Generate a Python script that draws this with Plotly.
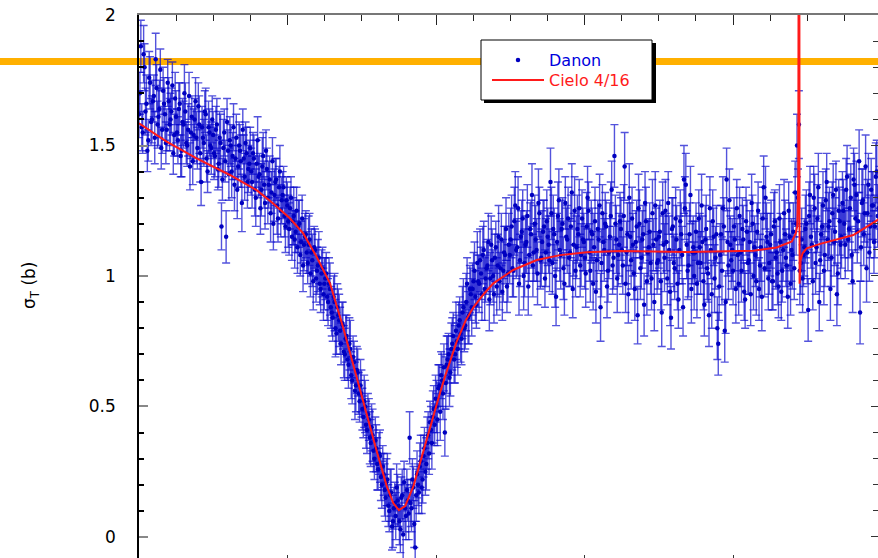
import numpy as np
import plotly.graph_objects as go

# ---------------- data ----------------
# Danon measurement: total cross section (b) and 1-sigma uncertainty (b) on a uniform
# neutron-energy grid (MeV); the two lists below hold the even and odd grid points.
danon_energy = np.linspace(1.5, 3.99312, 800)
danon_sigma_even = [
    1.62, 1.88, 1.55, 1.80, 1.66, 1.52, 1.74, 1.60, 1.69, 1.83, 1.58, 1.64, 1.49, 1.71, 1.62, 1.56, 1.67, 1.60, 1.73, 1.54,
    1.61, 1.52, 1.66, 1.48, 1.58, 1.63, 1.50, 1.69, 1.55, 1.44, 1.60, 1.53, 1.65, 1.47, 1.57, 1.51, 1.62, 1.40, 1.55, 1.49,
    1.54, 1.46, 1.58, 1.43, 1.51, 1.37, 1.55, 1.15, 1.48, 1.52, 1.40, 1.57, 1.45, 1.33, 1.50, 1.44, 1.56, 1.38, 1.47, 1.41,
    1.49, 1.36, 1.45, 1.30, 1.52, 1.39, 1.33, 1.46, 1.28, 1.41, 1.35, 1.24, 1.44, 1.31, 1.37, 1.22, 1.40, 1.29, 1.34, 1.19,
    1.27, 1.18, 1.30, 1.21, 1.14, 1.25, 1.19, 1.08, 1.22, 1.12, 1.16, 1.05, 1.14, 1.09, 0.98, 1.10, 1.02, 1.07, 0.95, 1.03,
    0.97, 1.01, 0.90, 0.95, 0.86, 0.92, 0.80, 0.88, 0.83, 0.74, 0.81, 0.70, 0.77, 0.66, 0.72, 0.60, 0.67, 0.58, 0.63, 0.52,
    0.55, 0.46, 0.50, 0.41, 0.45, 0.36, 0.39, 0.30, 0.34, 0.26, 0.31, 0.20, 0.24, 0.15, 0.22, 0.10, 0.17, 0.06, 0.13, 0.19,
    0.12, 0.03, 0.16, 0.21, 0.08, 0.14, 0.38, 0.11, 0.19, -0.04, 0.24, 0.17, 0.29, 0.22, 0.34, 0.28, 0.39, 0.44, 0.36, 0.49,
    0.53, 0.45, 0.58, 0.62, 0.55, 0.40, 0.66, 0.70, 0.63, 0.74, 0.68, 0.79, 0.72, 0.83, 0.76, 0.88, 0.81, 0.97, 0.85, 0.93,
    0.95, 1.02, 0.89, 0.98, 1.06, 0.93, 1.10, 0.99, 1.04, 0.91, 1.12, 1.00, 1.07, 0.96, 1.15, 1.03, 0.94, 1.09, 1.18, 1.01,
    1.08, 1.19, 1.02, 1.27, 1.11, 0.97, 1.15, 1.22, 1.05, 1.13, 0.96, 1.18, 1.31, 1.09, 1.14, 1.01, 1.24, 1.07, 1.17, 0.99,
    1.21, 1.12, 1.36, 1.05, 1.16, 0.92, 1.23, 1.10, 1.18, 1.03, 1.28, 1.14, 1.07, 1.19, 0.95, 1.25, 1.11, 1.16, 1.04, 1.22,
    1.13, 1.01, 1.30, 1.09, 1.17, 0.97, 1.21, 1.06, 1.14, 0.88, 1.24, 1.10, 1.19, 1.02, 1.15, 1.33, 1.07, 1.20, 0.99, 1.12,
    1.18, 1.04, 1.42, 1.09, 0.93, 1.15, 1.22, 1.01, 1.13, 0.85, 1.20, 1.07, 1.16, 1.28, 0.98, 1.11, 1.05, 1.24, 0.90, 1.14,
    1.06, 1.17, 0.86, 1.12, 1.25, 0.99, 1.10, 0.84, 1.19, 1.03, 1.14, 0.91, 1.21, 1.08, 1.37, 1.35, 1.02, 1.16, 0.95, 1.11,
    1.09, 0.97, 1.22, 1.05, 1.13, 0.89, 1.18, 1.01, 1.26, 0.93, 1.15, 1.07, 0.80, 0.96, 1.16, 1.26, 0.79, 1.37, 1.04, 1.12,
    1.10, 1.19, 0.95, 1.08, 1.23, 1.02, 1.14, 0.91, 1.17, 1.06, 0.93, 1.20, 1.11, 0.98, 1.25, 1.04, 0.92, 1.34, 1.30, 1.13,
    1.05, 1.16, 0.98, 1.21, 1.09, 0.96, 1.13, 1.02, 1.24, 1.07, 0.92, 1.15, 1.10, 1.17, 1.32, 1.50, 1.58, 1.05, 0.99, 1.11,
    1.20, 0.87, 1.31, 1.12, 1.30, 1.05, 1.22, 0.90, 1.16, 1.27, 1.08, 1.36, 1.19, 0.95, 1.24, 1.13, 1.33, 1.01, 1.21, 1.15,
    1.25, 1.12, 1.38, 1.18, 1.30, 0.98, 1.35, 1.31, 1.21, 0.86, 1.28, 1.16, 1.42, 1.24, 1.09, 1.33, 1.27, 1.19, 1.40, 1.26,
]
danon_sigma_odd = [
    1.70, 1.57, 1.85, 1.63, 1.48, 1.76, 1.59, 1.67, 1.53, 1.72, 1.61, 1.79, 1.56, 1.66, 1.51, 1.74, 1.58, 1.63, 1.47, 1.68,
    1.55, 1.64, 1.46, 1.59, 1.70, 1.51, 1.56, 1.42, 1.61, 1.54, 1.67, 1.49, 1.58, 1.36, 1.53, 1.63, 1.45, 1.57, 1.50, 1.60,
    1.47, 1.56, 1.41, 1.53, 1.19, 1.49, 1.44, 1.59, 1.39, 1.50, 1.46, 1.35, 1.53, 1.42, 1.48, 1.28, 1.45, 1.51, 1.36, 1.43,
    1.40, 1.47, 1.33, 1.43, 1.38, 1.26, 1.42, 1.35, 1.48, 1.30, 1.37, 1.32, 1.20, 1.36, 1.27, 1.34, 1.25, 1.31, 1.23, 1.29,
    1.21, 1.26, 1.15, 1.23, 1.17, 1.11, 1.20, 1.13, 1.04, 1.15, 1.09, 1.12, 1.01, 1.06, 1.11, 0.99, 1.04, 0.97, 1.01, 0.93,
    0.99, 0.92, 0.97, 0.88, 0.84, 0.90, 0.78, 0.85, 0.79, 0.82, 0.71, 0.76, 0.68, 0.74, 0.62, 0.69, 0.56, 0.64, 0.55, 0.58,
    0.49, 0.52, 0.43, 0.47, 0.38, 0.42, 0.33, 0.37, 0.28, 0.32, 0.23, 0.27, 0.18, 0.21, 0.12, 0.16, 0.04, 0.11, 0.08, 0.14,
    0.06, 0.15, 0.01, 0.11, 0.18, 0.09, 0.13, 0.22, 0.05, 0.16, 0.20, 0.27, 0.19, 0.31, 0.25, 0.36, 0.32, 0.41, 0.46, 0.43,
    0.50, 0.57, 0.48, 0.60, 0.65, 0.59, 0.68, 0.61, 0.72, 0.77, 0.70, 0.75, 0.81, 0.78, 0.86, 0.80, 0.90, 0.84, 0.95, 0.88,
    0.98, 0.92, 1.05, 0.97, 1.01, 1.08, 0.95, 1.03, 1.13, 0.99, 1.06, 0.93, 1.11, 1.04, 0.98, 1.14, 1.02, 1.08, 0.96, 1.12,
    1.14, 1.03, 1.21, 1.10, 1.26, 1.06, 1.17, 1.00, 1.12, 1.23, 1.08, 1.16, 1.04, 1.20, 1.10, 1.28, 1.06, 1.13, 1.19, 1.09,
    1.15, 1.06, 1.24, 1.18, 1.00, 1.13, 1.29, 1.08, 1.20, 0.97, 1.15, 1.22, 1.09, 1.32, 1.12, 1.02, 1.18, 1.26, 1.08, 1.14,
    1.07, 1.19, 1.25, 1.02, 1.16, 1.11, 0.94, 1.18, 1.27, 1.05, 1.13, 1.20, 0.96, 1.09, 1.23, 1.04, 1.46, 1.14, 1.08, 1.21,
    1.10, 1.23, 0.97, 1.16, 1.30, 1.06, 1.12, 0.95, 1.19, 1.26, 1.03, 1.14, 0.89, 1.21, 1.09, 1.17, 0.99, 1.12, 1.27, 1.05,
    1.15, 0.98, 1.24, 1.07, 1.13, 1.28, 0.94, 1.18, 1.05, 1.22, 0.97, 1.10, 1.16, 0.88, 1.26, 1.12, 1.04, 1.31, 1.09, 1.00,
    1.17, 1.05, 1.11, 1.27, 0.98, 1.14, 1.03, 0.85, 1.10, 1.21, 0.99, 1.16, 0.74, 1.08, 1.02, 1.19, 0.90, 1.13, 1.29, 1.06,
    1.02, 1.14, 1.26, 0.97, 1.09, 1.18, 0.94, 1.21, 1.05, 1.13, 1.28, 1.00, 1.08, 1.17, 0.95, 1.11, 1.22, 1.03, 1.15, 0.99,
    1.12, 0.98, 1.19, 1.07, 1.01, 1.22, 0.94, 1.10, 1.16, 1.04, 1.25, 0.97, 1.08, 1.03, 1.20, 1.30, 1.02, 1.14, 1.08, 1.18,
    1.09, 1.23, 1.15, 0.98, 1.26, 1.11, 1.34, 1.06, 1.19, 1.02, 1.29, 1.14, 1.21, 1.07, 1.31, 1.17, 0.93, 1.25, 1.12, 1.28,
    1.20, 1.33, 1.14, 1.26, 1.08, 1.37, 1.22, 1.17, 1.44, 1.11, 1.29, 1.24, 1.03, 1.35, 1.19, 1.27, 1.13, 1.38, 1.23, 1.30,
]
danon_err_even = [
    0.09, 0.10, 0.08, 0.09, 0.11, 0.08, 0.10, 0.09, 0.08, 0.10, 0.09, 0.11, 0.08, 0.09, 0.10, 0.08, 0.09, 0.10, 0.09, 0.08,
    0.10, 0.09, 0.08, 0.10, 0.09, 0.11, 0.08, 0.09, 0.10, 0.09, 0.08, 0.10, 0.09, 0.11, 0.08, 0.09, 0.10, 0.08, 0.09, 0.10,
    0.09, 0.08, 0.10, 0.09, 0.11, 0.08, 0.09, 0.10, 0.08, 0.09, 0.10, 0.09, 0.08, 0.11, 0.09, 0.10, 0.08, 0.09, 0.10, 0.09,
    0.08, 0.10, 0.09, 0.11, 0.09, 0.08, 0.10, 0.09, 0.10, 0.08, 0.09, 0.11, 0.09, 0.10, 0.08, 0.09, 0.10, 0.09, 0.08, 0.10,
    0.09, 0.10, 0.08, 0.09, 0.11, 0.09, 0.10, 0.08, 0.09, 0.10, 0.09, 0.08, 0.10, 0.09, 0.11, 0.08, 0.09, 0.10, 0.09, 0.08,
    0.10, 0.08, 0.09, 0.10, 0.09, 0.08, 0.11, 0.09, 0.10, 0.08, 0.09, 0.10, 0.08, 0.09, 0.11, 0.09, 0.08, 0.10, 0.09, 0.08,
    0.09, 0.08, 0.10, 0.09, 0.08, 0.09, 0.10, 0.08, 0.09, 0.08, 0.10, 0.09, 0.08, 0.09, 0.10, 0.08, 0.09, 0.10, 0.08, 0.09,
    0.08, 0.09, 0.10, 0.08, 0.09, 0.08, 0.10, 0.09, 0.08, 0.10, 0.09, 0.08, 0.10, 0.09, 0.08, 0.10, 0.09, 0.08, 0.10, 0.09,
    0.09, 0.10, 0.08, 0.09, 0.10, 0.09, 0.11, 0.08, 0.09, 0.10, 0.09, 0.11, 0.10, 0.09, 0.10, 0.11, 0.09, 0.10, 0.11, 0.10,
    0.10, 0.11, 0.09, 0.10, 0.12, 0.10, 0.11, 0.09, 0.10, 0.12, 0.11, 0.10, 0.09, 0.11, 0.12, 0.10, 0.11, 0.10, 0.12, 0.11,
    0.11, 0.12, 0.10, 0.13, 0.11, 0.12, 0.10, 0.11, 0.13, 0.12, 0.11, 0.10, 0.12, 0.11, 0.13, 0.12, 0.10, 0.11, 0.12, 0.11,
    0.12, 0.11, 0.13, 0.12, 0.10, 0.11, 0.13, 0.12, 0.11, 0.12, 0.10, 0.13, 0.11, 0.12, 0.11, 0.13, 0.12, 0.10, 0.12, 0.11,
    0.11, 0.13, 0.12, 0.11, 0.12, 0.10, 0.13, 0.11, 0.12, 0.13, 0.11, 0.12, 0.10, 0.12, 0.13, 0.11, 0.12, 0.11, 0.13, 0.12,
    0.12, 0.11, 0.13, 0.12, 0.11, 0.13, 0.12, 0.10, 0.12, 0.11, 0.13, 0.12, 0.11, 0.12, 0.13, 0.11, 0.12, 0.13, 0.11, 0.12,
    0.11, 0.12, 0.13, 0.11, 0.12, 0.10, 0.13, 0.12, 0.11, 0.12, 0.13, 0.11, 0.12, 0.11, 0.13, 0.12, 0.11, 0.12, 0.13, 0.12,
    0.12, 0.13, 0.11, 0.12, 0.10, 0.12, 0.13, 0.11, 0.12, 0.13, 0.11, 0.12, 0.12, 0.13, 0.11, 0.12, 0.12, 0.12, 0.13, 0.11,
    0.12, 0.11, 0.13, 0.12, 0.11, 0.12, 0.13, 0.11, 0.12, 0.13, 0.12, 0.11, 0.12, 0.13, 0.11, 0.12, 0.13, 0.12, 0.12, 0.11,
    0.12, 0.13, 0.11, 0.12, 0.13, 0.12, 0.11, 0.12, 0.13, 0.11, 0.12, 0.13, 0.12, 0.11, 0.12, 0.12, 0.13, 0.12, 0.13, 0.11,
    0.13, 0.12, 0.11, 0.13, 0.12, 0.12, 0.13, 0.11, 0.12, 0.13, 0.12, 0.11, 0.13, 0.12, 0.12, 0.13, 0.11, 0.12, 0.13, 0.12,
    0.12, 0.13, 0.12, 0.11, 0.13, 0.12, 0.12, 0.13, 0.11, 0.12, 0.13, 0.12, 0.12, 0.13, 0.11, 0.12, 0.13, 0.12, 0.12, 0.13,
]
danon_err_odd = [
    0.08, 0.09, 0.11, 0.09, 0.08, 0.10, 0.09, 0.08, 0.10, 0.09, 0.11, 0.08, 0.09, 0.10, 0.08, 0.09, 0.10, 0.09, 0.08, 0.10,
    0.09, 0.10, 0.08, 0.09, 0.11, 0.08, 0.10, 0.09, 0.08, 0.10, 0.09, 0.08, 0.11, 0.09, 0.10, 0.08, 0.09, 0.10, 0.08, 0.09,
    0.10, 0.09, 0.08, 0.10, 0.09, 0.11, 0.08, 0.09, 0.10, 0.08, 0.09, 0.10, 0.09, 0.08, 0.10, 0.11, 0.09, 0.08, 0.10, 0.09,
    0.09, 0.08, 0.10, 0.09, 0.08, 0.10, 0.11, 0.09, 0.08, 0.10, 0.09, 0.08, 0.10, 0.09, 0.11, 0.08, 0.10, 0.09, 0.08, 0.09,
    0.10, 0.08, 0.09, 0.11, 0.08, 0.10, 0.09, 0.08, 0.10, 0.09, 0.08, 0.11, 0.09, 0.10, 0.08, 0.09, 0.10, 0.08, 0.09, 0.10,
    0.08, 0.09, 0.10, 0.08, 0.09, 0.11, 0.08, 0.10, 0.09, 0.08, 0.10, 0.09, 0.08, 0.10, 0.09, 0.08, 0.11, 0.09, 0.08, 0.10,
    0.08, 0.10, 0.09, 0.08, 0.10, 0.09, 0.08, 0.09, 0.10, 0.08, 0.09, 0.08, 0.10, 0.09, 0.08, 0.10, 0.09, 0.08, 0.09, 0.10,
    0.09, 0.08, 0.10, 0.09, 0.08, 0.10, 0.09, 0.08, 0.09, 0.10, 0.08, 0.09, 0.10, 0.08, 0.09, 0.10, 0.08, 0.09, 0.10, 0.08,
    0.10, 0.09, 0.11, 0.10, 0.09, 0.10, 0.09, 0.11, 0.10, 0.09, 0.11, 0.10, 0.09, 0.11, 0.10, 0.09, 0.11, 0.10, 0.09, 0.11,
    0.11, 0.10, 0.12, 0.11, 0.10, 0.11, 0.12, 0.10, 0.11, 0.10, 0.12, 0.11, 0.10, 0.12, 0.11, 0.10, 0.12, 0.11, 0.10, 0.12,
    0.12, 0.11, 0.13, 0.11, 0.12, 0.10, 0.12, 0.13, 0.11, 0.12, 0.10, 0.13, 0.12, 0.11, 0.12, 0.13, 0.11, 0.12, 0.10, 0.13,
    0.11, 0.12, 0.10, 0.13, 0.12, 0.11, 0.12, 0.13, 0.10, 0.12, 0.11, 0.12, 0.13, 0.11, 0.12, 0.10, 0.13, 0.11, 0.12, 0.12,
    0.12, 0.13, 0.11, 0.12, 0.10, 0.13, 0.12, 0.11, 0.12, 0.13, 0.11, 0.12, 0.12, 0.10, 0.13, 0.11, 0.12, 0.13, 0.12, 0.11,
    0.13, 0.12, 0.11, 0.12, 0.13, 0.11, 0.12, 0.12, 0.10, 0.13, 0.12, 0.11, 0.12, 0.13, 0.12, 0.11, 0.12, 0.10, 0.13, 0.12,
    0.12, 0.11, 0.12, 0.13, 0.11, 0.12, 0.13, 0.12, 0.11, 0.12, 0.10, 0.13, 0.12, 0.11, 0.12, 0.13, 0.12, 0.11, 0.12, 0.13,
    0.11, 0.12, 0.13, 0.12, 0.11, 0.13, 0.12, 0.12, 0.11, 0.12, 0.13, 0.11, 0.12, 0.12, 0.13, 0.11, 0.12, 0.13, 0.12, 0.11,
    0.13, 0.12, 0.11, 0.12, 0.13, 0.12, 0.11, 0.13, 0.12, 0.12, 0.11, 0.13, 0.12, 0.11, 0.12, 0.13, 0.12, 0.11, 0.13, 0.12,
    0.12, 0.11, 0.13, 0.12, 0.12, 0.13, 0.11, 0.12, 0.13, 0.12, 0.11, 0.12, 0.13, 0.12, 0.12, 0.11, 0.13, 0.12, 0.12, 0.13,
    0.12, 0.13, 0.12, 0.11, 0.13, 0.12, 0.13, 0.12, 0.11, 0.13, 0.12, 0.12, 0.13, 0.11, 0.12, 0.13, 0.12, 0.12, 0.13, 0.12,
    0.13, 0.12, 0.12, 0.13, 0.11, 0.12, 0.13, 0.12, 0.12, 0.13, 0.12, 0.11, 0.13, 0.12, 0.12, 0.13, 0.12, 0.13, 0.12, 0.12,
]

# CIELO evaluation (4/16)
cielo_energy = [1.5, 1.593, 1.694, 1.806, 1.896, 1.952, 2.008, 2.053, 2.098, 2.143, 2.188, 2.233, 2.267,
                2.300, 2.334, 2.356, 2.375, 2.396, 2.424, 2.457, 2.491, 2.513, 2.530, 2.570, 2.600, 2.626,
                2.660, 2.693, 2.760, 2.839, 2.918, 3.007, 3.120, 3.344, 3.568, 3.647, 3.698, 3.711, 3.716,
                3.7195, 3.7225, 3.7232, 3.7240, 3.7275, 3.734, 3.748, 3.793, 3.905, 3.99]
cielo_sigma = [1.585, 1.515, 1.451, 1.387, 1.329, 1.278, 1.221, 1.163, 1.074, 0.972, 0.800, 0.610, 0.470,
               0.330, 0.195, 0.130, 0.103, 0.118, 0.195, 0.330, 0.470, 0.551, 0.614, 0.750, 0.830, 0.880,
               0.930, 0.972, 1.023, 1.061, 1.080, 1.091, 1.096, 1.092, 1.097, 1.109, 1.132, 1.163, 1.190,
               1.350, 3.500, 3.500, 0.970, 1.060, 1.087, 1.106, 1.123, 1.157, 1.217]

reference_level = 1.822   # horizontal orange line (b)

x_range = [1.5, 3.988]
y_range = [-0.0805, 2.0]
x_major = [1.5, 2.0, 2.5, 3.0, 3.5]
y_major = [0, 0.5, 1, 1.5, 2]
y_ticklabels = ["0", "0.5", "1", "1.5", "2"]

# interleave the even / odd grid points into one series
danon_sigma = np.empty(800)
danon_sigma[0::2] = danon_sigma_even
danon_sigma[1::2] = danon_sigma_odd
danon_err = np.empty(800)
danon_err[0::2] = danon_err_even
danon_err[1::2] = danon_err_odd

# ---------------- figure ----------------
FONT = "DejaVu Sans"
W, H = 878, 558
L, T = 139, 15


def pxx(p):
    return (p - L) / (W - L)


def pxy(p):
    return (H - p) / (H - T)


fig = go.Figure()
fig.add_trace(go.Scatter(
    x=danon_energy, y=danon_sigma, mode="markers",
    name='<span style="color:#0000dd">Danon</span>',
    marker=dict(color="#0000c0", size=4.5),
    error_y=dict(type="data", array=danon_err, visible=True,
                 color="rgba(10,10,205,0.7)", thickness=1.4, width=4),
    legend="legend",
))
fig.add_trace(go.Scatter(
    x=cielo_energy, y=cielo_sigma, mode="lines",
    name='<span style="color:#ff1a1a">Cielo 4/16</span>',
    line=dict(color="#ff1a1a", width=2),
    legend="legend2",
))
# empty trace so that the mirrored top / right axes are drawn
fig.add_trace(go.Scatter(x=[], y=[], xaxis="x2", yaxis="y2", showlegend=False, hoverinfo="skip"))

ref_y = (reference_level - y_range[0]) / (y_range[1] - y_range[0])

legend_common = dict(xanchor="left", yanchor="top", bgcolor="rgba(0,0,0,0)", borderwidth=0,
                     font=dict(size=16, family=FONT), itemwidth=52)

fig.update_layout(
    width=W, height=H,
    margin=dict(l=L, r=0, t=T, b=0, autoexpand=False),
    paper_bgcolor="white", plot_bgcolor="rgba(0,0,0,0)",
    font=dict(family=FONT, color="black"),
    xaxis=dict(range=x_range, tickvals=x_major, ticks="inside", ticklen=3, tickcolor="#333",
               showticklabels=False, showline=False, showgrid=False, zeroline=False),
    xaxis2=dict(range=x_range, overlaying="x", side="top", anchor="y2", tickvals=x_major,
                ticks="inside", ticklen=10, tickcolor="#222", tickwidth=1,
                showticklabels=False, showline=True, linecolor="#777", linewidth=2,
                showgrid=False, zeroline=False,
                minor=dict(ticks="inside", tickmode="linear", tick0=1.5, dtick=0.125,
                           ticklen=6, tickcolor="#222")),
    yaxis=dict(range=y_range, tickvals=y_major, ticktext=y_ticklabels, ticks="inside",
               ticklen=9, tickcolor="#888", tickwidth=1.5, showline=True, linecolor="black",
               linewidth=1.5, showgrid=False, zeroline=False,
               tickfont=dict(size=17, family=FONT, color="black"), ticklabelstandoff=18,
               minor=dict(ticks="inside", tickmode="linear", tick0=0, dtick=0.1,
                          ticklen=5, tickcolor="black")),
    yaxis2=dict(range=y_range, overlaying="y", side="right", anchor="x2", tickvals=y_major,
                ticks="inside", ticklen=7, tickcolor="#333", showticklabels=False,
                showline=False, showgrid=False, zeroline=False,
                minor=dict(ticks="inside", tickmode="linear", tick0=0, dtick=0.1,
                           ticklen=5, tickcolor="#333")),
    showlegend=True,
    legend=dict(x=pxx(487), y=pxy(43), **legend_common),
    legend2=dict(x=pxx(487), y=pxy(63), **legend_common),
    shapes=[
        dict(type="line", xref="paper", yref="paper", x0=-0.25, x1=1.05, y0=ref_y, y1=ref_y,
             line=dict(color="#FFB000", width=7), layer="below"),
        dict(type="rect", xref="paper", yref="paper", x0=pxx(484), x1=pxx(656),
             y0=pxy(103), y1=pxy(43), fillcolor="black", line=dict(width=0), layer="above"),
        dict(type="rect", xref="paper", yref="paper", x0=pxx(481), x1=pxx(652),
             y0=pxy(100), y1=pxy(40), fillcolor="white", line=dict(color="black", width=1),
             layer="above"),
    ],
    annotations=[
        dict(text="σ<sub>T</sub> (b)", xref="paper", yref="paper", x=pxx(30), y=pxy(285),
             xanchor="center", yanchor="middle", textangle=-90, showarrow=False,
             font=dict(size=17, family=FONT, color="black")),
    ],
)

fig.write_html("out.html", config={"displayModeBar": False},
               post_script="document.body.style.margin='0px';")
